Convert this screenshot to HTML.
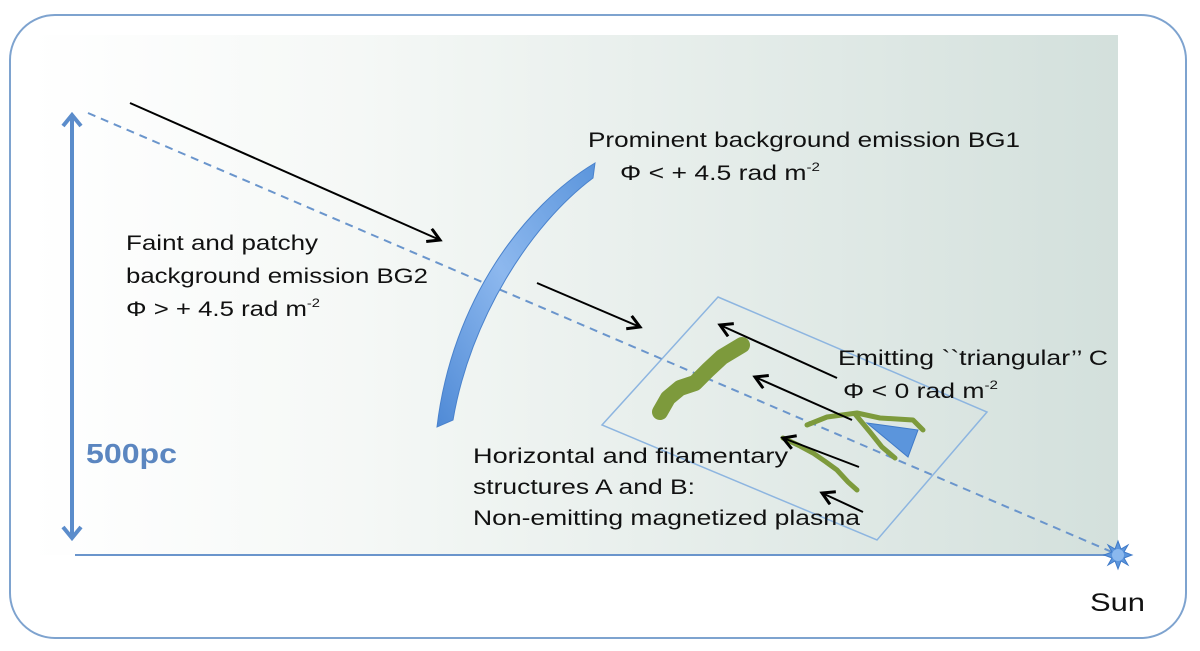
<!DOCTYPE html>
<html><head><meta charset="utf-8"><style>
html,body{margin:0;padding:0;background:#fff;}
svg{display:block;}
text{font-family:"Liberation Sans",sans-serif;fill:#111;}
</style></head><body>
<svg width="1200" height="651" viewBox="0 0 1200 651" xmlns="http://www.w3.org/2000/svg">
<defs>
<linearGradient id="bg" x1="0" y1="0" x2="1" y2="0">
<stop offset="0" stop-color="#ffffff"/>
<stop offset="0.3" stop-color="#f5f8f6"/>
<stop offset="1" stop-color="#d3e0dc"/>
</linearGradient>
<linearGradient id="arc" x1="0" y1="1" x2="1" y2="0">
<stop offset="0" stop-color="#4f8ad6"/>
<stop offset="0.5" stop-color="#8db8ee"/>
<stop offset="1" stop-color="#5b95dc"/>
</linearGradient>
<marker id="ah" markerWidth="18" markerHeight="18" refX="14" refY="8" orient="auto" markerUnits="userSpaceOnUse">
<path d="M2,1 L14,8 L2,15" fill="none" stroke="#000" stroke-width="3"/>
</marker>
</defs>
<rect x="10" y="15" width="1176" height="623" rx="45" fill="#fff" stroke="#7ea3cf" stroke-width="2"/>
<rect x="30" y="35" width="1088" height="520" fill="url(#bg)"/>
<line x1="75" y1="555" x2="1115" y2="555" stroke="#6a95cc" stroke-width="2"/>
<line x1="72" y1="117" x2="72" y2="536" stroke="#5b8ccb" stroke-width="4"/>
<path d="M63,126 L72,115 L81,126" fill="none" stroke="#5b8ccb" stroke-width="4"/>
<path d="M63,527 L72,538 L81,527" fill="none" stroke="#5b8ccb" stroke-width="4"/>
<polygon points="718,297 987,412 877,540 602,425" fill="none" stroke="#8db5e0" stroke-width="1.5"/>
<line x1="88" y1="113" x2="1112" y2="552" stroke="#6a95cc" stroke-width="2" stroke-dasharray="8,6"/>
<path d="M595,163 C525,205 452,300 437,427 L453,420 C470,320 530,225 593,178 Z" fill="url(#arc)" stroke="#4a82cc" stroke-width="1"/>
<path d="M660,412 L668,398 L680,388 L695,383 L708,370 L722,357 L742,345" fill="none" stroke="#7d9a3c" stroke-width="16" stroke-linecap="round" stroke-linejoin="round"/>
<path d="M807,425 L827,417 L857,413 L880,418 L913,420 L923,430" fill="none" stroke="#7d9a3c" stroke-width="5" stroke-linecap="round" stroke-linejoin="round"/>
<path d="M855,414 L870,432 L882,447 L895,458" fill="none" stroke="#7d9a3c" stroke-width="5" stroke-linecap="round"/>
<path d="M783,438 L800,446 L813,453 L826,462 L837,470 L848,482 L857,490" fill="none" stroke="#7d9a3c" stroke-width="5" stroke-linecap="round"/>
<polygon points="867,423 918,430 908,457" fill="#5b95dc" stroke="#3f7ac8" stroke-width="1"/>
<line x1="130" y1="103" x2="440" y2="240" stroke="#000" stroke-width="2" marker-end="url(#ah)"/>
<line x1="537" y1="283" x2="640" y2="327" stroke="#000" stroke-width="2" marker-end="url(#ah)"/>
<line x1="837" y1="378" x2="720" y2="325" stroke="#000" stroke-width="2" marker-end="url(#ah)"/>
<line x1="852" y1="420" x2="755" y2="377" stroke="#000" stroke-width="2" marker-end="url(#ah)"/>
<line x1="859" y1="467" x2="783" y2="438" stroke="#000" stroke-width="2" marker-end="url(#ah)"/>
<line x1="863" y1="512" x2="822" y2="493" stroke="#000" stroke-width="2" marker-end="url(#ah)"/>
<g transform="translate(1118,555)">
<polygon points="0,-14 3,-6 10,-10 6,-3 14,0 6,3 10,10 3,6 0,14 -3,6 -10,10 -6,3 -14,0 -6,-3 -10,-10 -3,-6" fill="#5b95dc" stroke="#3f7ac8" stroke-width="1"/>
<circle r="6" fill="#8ab8ee"/>
</g>
<text x="588" y="147" font-size="21" textLength="432" lengthAdjust="spacingAndGlyphs">Prominent background emission BG1</text>
<text x="620" y="180" font-size="21" textLength="200" lengthAdjust="spacingAndGlyphs">Φ &lt; + 4.5 rad m<tspan font-size="12" dy="-9">-2</tspan></text>
<text x="126" y="250" font-size="21" textLength="192" lengthAdjust="spacingAndGlyphs">Faint and patchy</text>
<text x="126" y="283" font-size="21" textLength="302" lengthAdjust="spacingAndGlyphs">background emission BG2</text>
<text x="126" y="316" font-size="21" textLength="194" lengthAdjust="spacingAndGlyphs">Φ &gt; + 4.5 rad m<tspan font-size="12" dy="-9">-2</tspan></text>
<text x="86" y="463" font-size="28" font-weight="bold" style="fill:#5b86c0" textLength="91" lengthAdjust="spacingAndGlyphs">500pc</text>
<text x="838" y="365" font-size="21" textLength="270" lengthAdjust="spacingAndGlyphs">Emitting ``triangular’’ C</text>
<text x="843" y="398" font-size="21" textLength="155" lengthAdjust="spacingAndGlyphs">Φ &lt; 0 rad m<tspan font-size="12" dy="-9">-2</tspan></text>
<text x="473" y="463" font-size="21" textLength="315" lengthAdjust="spacingAndGlyphs">Horizontal and filamentary</text>
<text x="473" y="494" font-size="21" textLength="222" lengthAdjust="spacingAndGlyphs">structures A and B:</text>
<text x="473" y="525" font-size="21" textLength="387" lengthAdjust="spacingAndGlyphs">Non-emitting magnetized plasma</text>
<text x="1090" y="611" font-size="25" textLength="55" lengthAdjust="spacingAndGlyphs">Sun</text>
</svg>
</body></html>
